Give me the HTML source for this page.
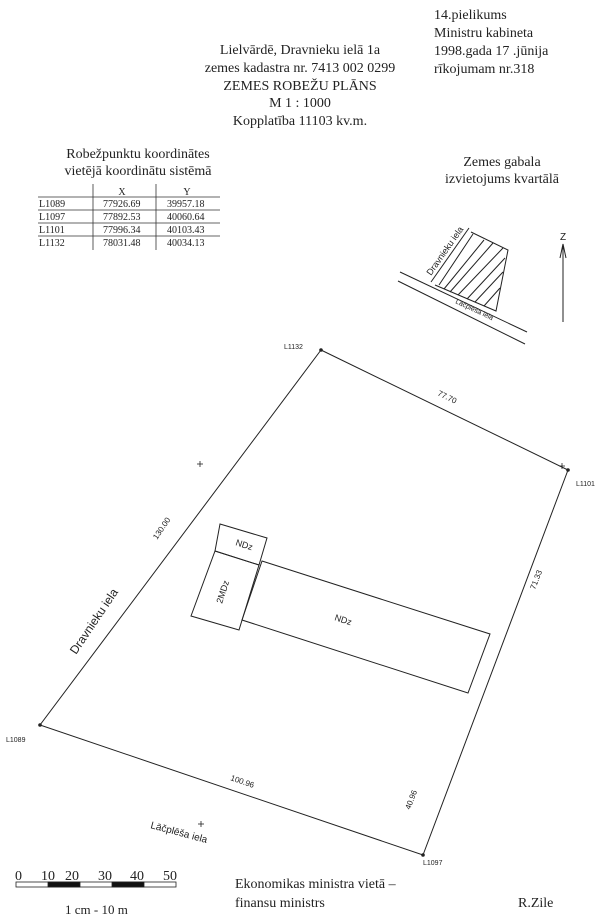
<!DOCTYPE html>
<html><head><meta charset="utf-8"><style>
html,body{margin:0;padding:0;background:#fff;}
svg{display:block;}
.s{font-family:"Liberation Serif",serif;fill:#222;}
.m{font-family:"Liberation Sans",sans-serif;fill:#222;}
</style></head><body>
<svg width="600" height="920" viewBox="0 0 600 920" xmlns="http://www.w3.org/2000/svg">
<g class="s" font-size="14" text-anchor="middle">
<text x="300" y="54">Lielvārdē, Dravnieku ielā 1a</text>
<text x="300" y="72">zemes kadastra nr. 7413 002 0299</text>
<text x="300" y="90">ZEMES ROBEŽU PLĀNS</text>
<text x="300" y="107">M 1 : 1000</text>
<text x="300" y="125">Kopplatība 11103 kv.m.</text>
</g>
<g class="s" font-size="14">
<text x="434" y="19">14.pielikums</text>
<text x="434" y="37">Ministru kabineta</text>
<text x="434" y="55">1998.gada 17 .jūnija</text>
<text x="434" y="73">rīkojumam nr.318</text>
</g>
<g class="s" font-size="14" text-anchor="middle">
<text x="138" y="158">Robežpunktu koordinātes</text>
<text x="138" y="175">vietējā koordinātu sistēmā</text>
<text x="502" y="166">Zemes gabala</text>
<text x="502" y="183">izvietojums kvartālā</text>
</g>
<g stroke="#333" stroke-width="0.8">
<line x1="93" y1="184" x2="93" y2="250"/><line x1="156" y1="184" x2="156" y2="250"/>
<line x1="38" y1="197" x2="220" y2="197"/><line x1="38" y1="210" x2="220" y2="210"/>
<line x1="38" y1="223" x2="220" y2="223"/><line x1="38" y1="236" x2="220" y2="236"/>
</g>
<g class="s" font-size="10">
<text x="122" y="195" text-anchor="middle">X</text><text x="187" y="195" text-anchor="middle">Y</text>
<text x="39" y="207">L1089</text><text x="103" y="207">77926.69</text><text x="167" y="207">39957.18</text>
<text x="39" y="220">L1097</text><text x="103" y="220">77892.53</text><text x="167" y="220">40060.64</text>
<text x="39" y="233">L1101</text><text x="103" y="233">77996.34</text><text x="167" y="233">40103.43</text>
<text x="39" y="246">L1132</text><text x="103" y="246">78031.48</text><text x="167" y="246">40034.13</text>
</g>
<!-- inset -->
<g stroke="#222" stroke-width="1" fill="none">
<line x1="400" y1="272" x2="527" y2="332"/><line x1="398" y1="281" x2="525" y2="344"/>
<line x1="431" y1="282" x2="469" y2="228"/><line x1="439" y1="285" x2="473" y2="234"/>
<polyline points="471,232 508,250 496,311 435,285"/>
<line x1="444" y1="289" x2="484" y2="240"/><line x1="450" y1="292" x2="493" y2="243"/>
<line x1="458" y1="295" x2="503" y2="248"/><line x1="467" y1="299" x2="505" y2="258"/>
<line x1="475" y1="302" x2="503" y2="272"/><line x1="484" y1="306" x2="500" y2="288"/>
<line x1="563" y1="245" x2="563" y2="322"/>
<polyline points="560,258 563,244 566,258"/>
</g>
<text class="m" font-size="10" x="563" y="240" text-anchor="middle">Z</text>
<text class="m" font-size="9" transform="translate(431,276) rotate(-55)">Dravnieku iela</text>
<text class="m" font-size="7" transform="translate(455,303) rotate(25)">Lāčplēša iela</text>
<!-- parcel -->
<polygon points="321,350 568,470 423,855 40,725" fill="none" stroke="#222" stroke-width="1"/>
<g fill="#222"><circle cx="321" cy="350" r="1.8"/><circle cx="568" cy="470" r="1.8"/><circle cx="423" cy="855" r="1.8"/><circle cx="40" cy="725" r="1.8"/></g>
<g class="m" font-size="7">
<text x="284" y="349">L1132</text><text x="576" y="486">L1101</text>
<text x="423" y="865">L1097</text><text x="6" y="742">L1089</text>
</g>
<g stroke="#222" stroke-width="0.8">
<line x1="197" y1="464" x2="203" y2="464"/><line x1="200" y1="461" x2="200" y2="467"/>
<line x1="559" y1="466" x2="565" y2="466"/><line x1="562" y1="463" x2="562" y2="469"/>
<line x1="198" y1="824" x2="204" y2="824"/><line x1="201" y1="821" x2="201" y2="827"/>
</g>
<g class="m" font-size="8">
<text transform="translate(437,395) rotate(26)">77.70</text>
<text transform="translate(157,540) rotate(-56)">130.00</text>
<text transform="translate(535,590) rotate(-69)">71.33</text>
<text transform="translate(230,780) rotate(19)">100.96</text>
<text transform="translate(410,810) rotate(-69)">40.96</text>
</g>
<text class="m" font-size="12" transform="translate(76,655) rotate(-56)">Dravnieku iela</text>
<text class="m" font-size="10" transform="translate(150,828) rotate(15)">Lāčplēša iela</text>
<!-- buildings -->
<g fill="none" stroke="#222" stroke-width="1">
<polygon points="220,524 267,538 259,565 215,551"/>
<polygon points="215,551 259,565 239,630 191,616"/>
<polygon points="262,561 490,634 468,693 242,620"/>
</g>
<text class="m" font-size="9" transform="translate(235,545) rotate(18)">NDz</text>
<text class="m" font-size="9" transform="translate(222,604) rotate(-72)">2MDz</text>
<text class="m" font-size="9" transform="translate(334,620) rotate(18)">NDz</text>
<!-- scale -->
<g class="s" font-size="14">
<text x="15" y="880">0</text><text x="41" y="880">10</text><text x="65" y="880">20</text>
<text x="98" y="880">30</text><text x="130" y="880">40</text><text x="163" y="880">50</text>
<text x="65" y="914" font-size="13">1 cm - 10 m</text>
<text x="235" y="888">Ekonomikas ministra vietā –</text>
<text x="235" y="907">finansu ministrs</text>
<text x="518" y="907">R.Zile</text>
</g>
<g stroke="#222" stroke-width="0.8">
<rect x="16" y="882" width="160" height="5" fill="#fff"/>
<rect x="48" y="882" width="32" height="5" fill="#111"/>
<rect x="112" y="882" width="32" height="5" fill="#111"/>
</g>
</svg>
</body></html>
